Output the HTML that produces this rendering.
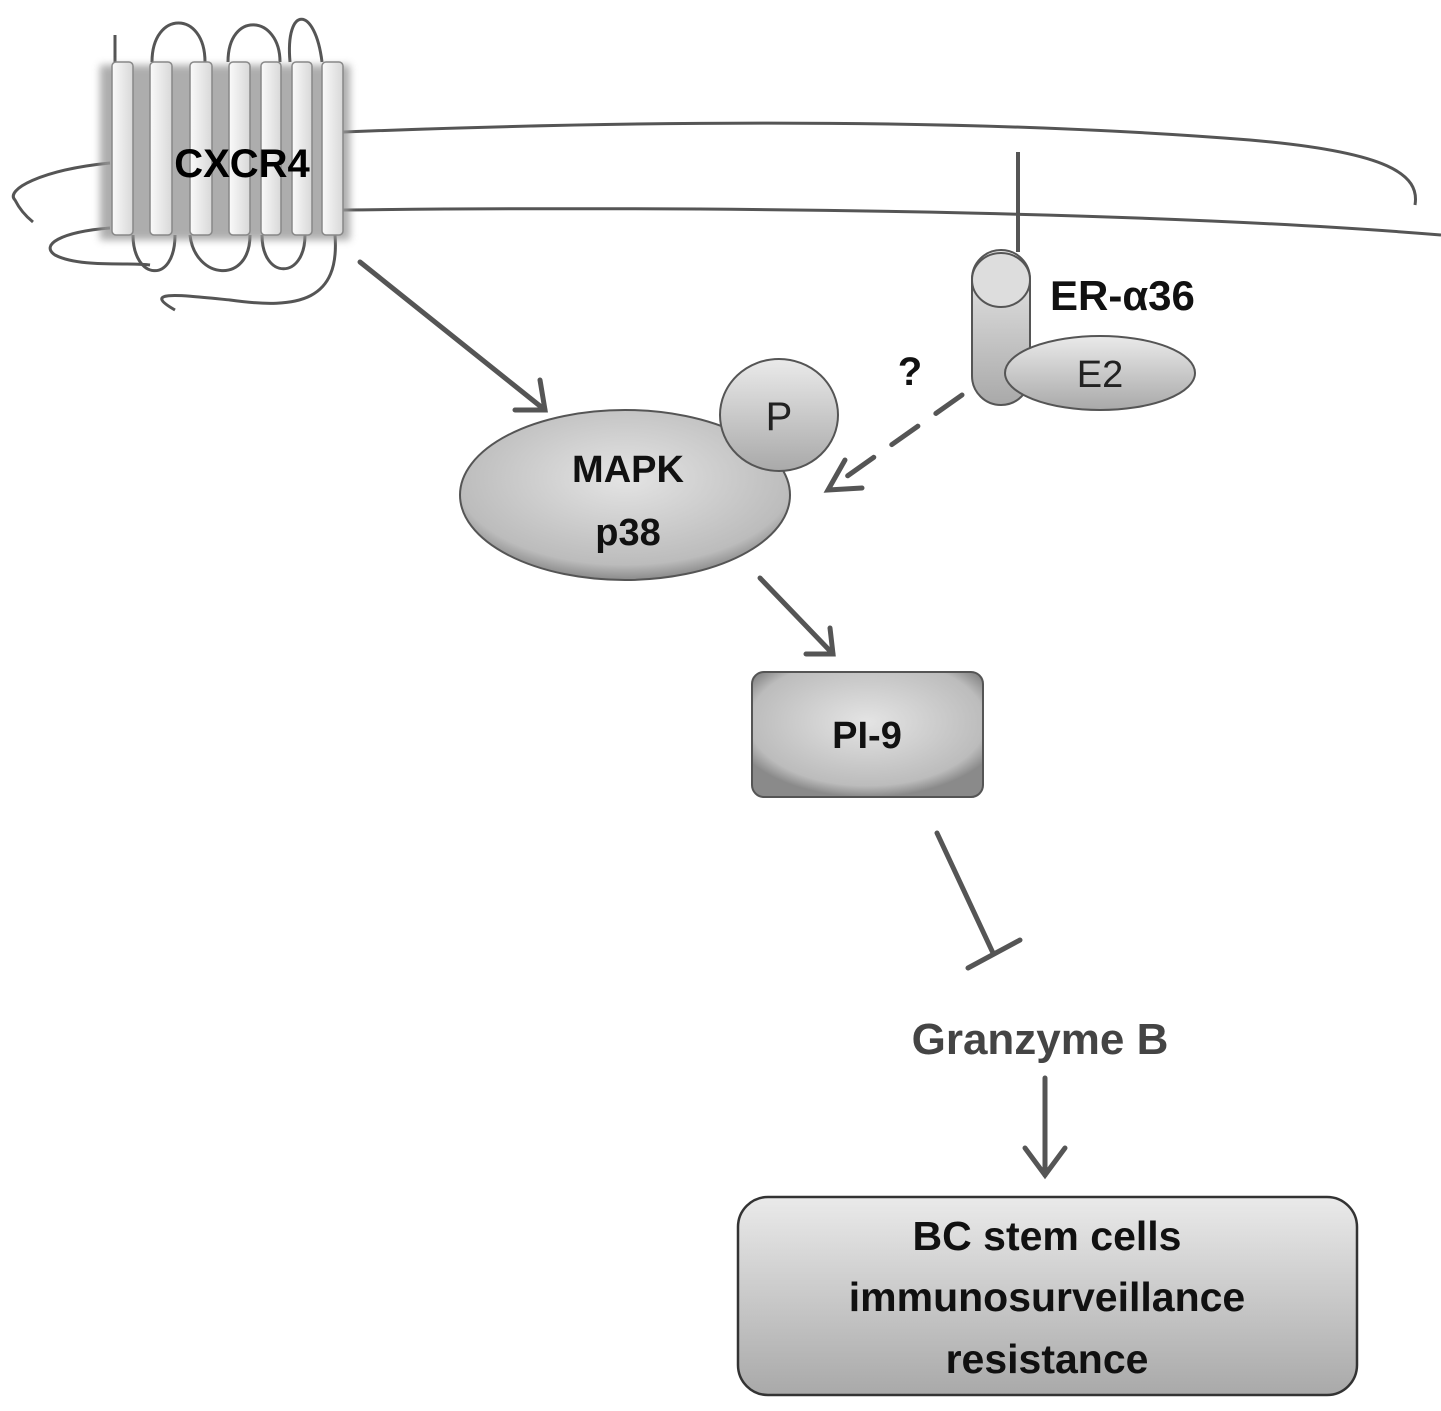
<!DOCTYPE html>
<html><head><meta charset="utf-8"><style>
body{margin:0;background:#fff}
svg{display:block}
text{font-family:"Liberation Sans",sans-serif;font-weight:bold}
</style></head><body>
<svg width="1441" height="1411" viewBox="0 0 1441 1411" xmlns="http://www.w3.org/2000/svg">
<defs>
<linearGradient id="g1" x1="0" y1="0" x2="0" y2="1"><stop offset="0" stop-color="#eaeaea"/><stop offset="1" stop-color="#a9a9a9"/></linearGradient>
<linearGradient id="g2" x1="0" y1="0" x2="1" y2="0"><stop offset="0" stop-color="#fafafa"/><stop offset="1" stop-color="#d8d8d8"/></linearGradient>
<radialGradient id="g3" cx="0.5" cy="0.4" r="0.6"><stop offset="0" stop-color="#e4e4e4"/><stop offset="0.85" stop-color="#bcbcbc"/><stop offset="1" stop-color="#8a8a8a"/></radialGradient>
<filter id="sh"><feGaussianBlur stdDeviation="4"/></filter>
<marker id="ar" markerWidth="10" markerHeight="10" refX="7" refY="5" orient="auto" markerUnits="userSpaceOnUse" viewBox="0 0 10 10"><path d="M1,1 L8,5 L1,9" fill="none" stroke="#555" stroke-width="1.4"/></marker>
</defs>
<g fill="none" stroke="#555" stroke-width="3">
<!-- membrane -->
<path d="M343,132 C700,118 1000,120 1250,140 C1390,152 1420,175 1415,205"/>
<path d="M343,210 C800,205 1200,215 1441,235"/>
<path d="M110,163 C40,170 5,190 15,200 C20,210 28,218 33,222"/>
<path d="M110,228 C60,232 40,245 55,255 C80,268 130,262 150,265"/>
<!-- loops -->
<path d="M115,35 L115,62"/>
<path d="M152,62 C152,10 205,10 205,62"/>
<path d="M228,62 C228,10 280,15 280,62"/>
<path d="M290,62 C285,5 315,5 322,62"/>
<path d="M133,235 C133,280 175,285 175,235"/>
<path d="M190,235 C195,280 250,285 250,235"/>
<path d="M262,235 C262,280 305,280 305,235"/>
<path d="M335,235 C340,300 300,310 230,300 C180,295 140,290 175,310"/>
</g>
<!-- helices -->
<g>
<rect x="100" y="65" width="250" height="175" fill="#999" filter="url(#sh)" opacity="0.8"/>
<g fill="url(#g2)" stroke="#888" stroke-width="1.5">
<rect x="112" y="62" width="21" height="173" rx="4"/>
<rect x="150" y="62" width="22" height="173" rx="4"/>
<rect x="190" y="62" width="22" height="173" rx="4"/>
<rect x="229" y="62" width="21" height="173" rx="4"/>
<rect x="261" y="62" width="20" height="173" rx="4"/>
<rect x="292" y="62" width="20" height="173" rx="4"/>
<rect x="322" y="62" width="21" height="173" rx="4"/>
</g>
</g>
<text x="242" y="177" font-size="40" text-anchor="middle" fill="#000">CXCR4</text>
<!-- ER-a36 -->
<line x1="1018" y1="152" x2="1018" y2="252" stroke="#555" stroke-width="4"/>
<rect x="972" y="250" width="58" height="155" rx="29" fill="url(#g1)" stroke="#555" stroke-width="2"/>
<ellipse cx="1001" cy="280" rx="29" ry="27" fill="#ddd" stroke="#555" stroke-width="2"/>
<ellipse cx="1100" cy="373" rx="95" ry="37" fill="url(#g1)" stroke="#555" stroke-width="2"/>
<text x="1100" y="387" font-size="38" font-weight="normal" style="font-weight:normal" text-anchor="middle" fill="#222">E2</text>
<text x="1050" y="310" font-size="42" fill="#111">ER-α36</text>
<text x="910" y="385" font-size="40" text-anchor="middle" fill="#111">?</text>
<!-- MAPK -->
<ellipse cx="625" cy="495" rx="165" ry="85" fill="url(#g3)" stroke="#555" stroke-width="2"/>
<ellipse cx="779" cy="415" rx="59" ry="56" fill="url(#g1)" stroke="#555" stroke-width="2"/>
<text x="779" y="430" font-size="40" style="font-weight:normal" text-anchor="middle" fill="#222">P</text>
<text x="628" y="482" font-size="38" text-anchor="middle" fill="#111">MAPK</text>
<text x="628" y="545" font-size="38" text-anchor="middle" fill="#111">p38</text>
<!-- arrows -->
<g stroke="#555" stroke-width="5" fill="none" stroke-linecap="round">
<line x1="360" y1="262" x2="545" y2="410"/>
<path d="M515,410 L545,410 L540,380"/>
<line x1="962" y1="395" x2="836" y2="484" stroke-dasharray="32,22"/>
<path d="M845,460 L828,490 L862,488"/>
<line x1="760" y1="578" x2="833" y2="654"/>
<path d="M806,654 L833,654 L830,628"/>
<line x1="937" y1="833" x2="993" y2="953"/>
<line x1="968" y1="968" x2="1020" y2="940"/>
<line x1="1045" y1="1078" x2="1045" y2="1175"/>
<path d="M1025,1148 L1045,1175 L1065,1148"/>
</g>
<!-- PI-9 -->
<rect x="752" y="672" width="231" height="125" rx="12" fill="url(#g3)" stroke="#555" stroke-width="2"/>
<text x="867" y="748" font-size="38" text-anchor="middle" fill="#111">PI-9</text>
<text x="1040" y="1054" font-size="44" text-anchor="middle" fill="#444">Granzyme B</text>
<rect x="738" y="1197" width="619" height="198" rx="30" fill="url(#g1)" stroke="#333" stroke-width="2.5"/>
<g font-size="41" text-anchor="middle" fill="#111">
<text x="1047" y="1250">BC stem cells</text>
<text x="1047" y="1311">immunosurveillance</text>
<text x="1047" y="1373">resistance</text>
</g>
</svg>
</body></html>
